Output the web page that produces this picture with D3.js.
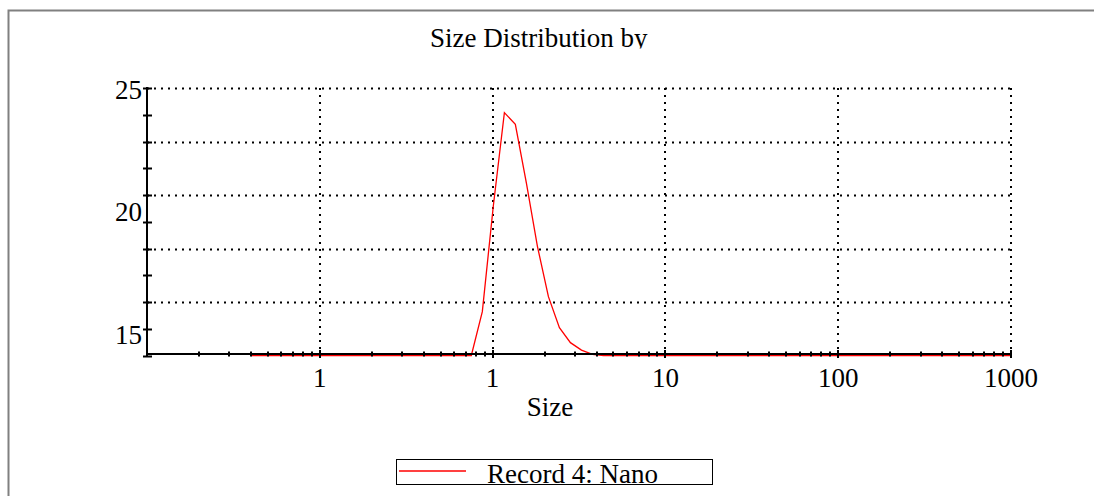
<!DOCTYPE html>
<html>
<head>
<meta charset="utf-8">
<script src="https://cdn.jsdelivr.net/npm/d3@7"></script>
<style>
  body { margin: 0; background: #fff; }
  text { font-family: "Liberation Serif", "Times New Roman", serif; fill: #000; }
</style>
</head>
<body>
<div class="chart"></div>
<script>
"use strict"

// size classes (nm)
const sizes = [0.4, 0.4632, 0.5365, 0.6213, 0.7195, 0.8332, 0.9649, 1.117, 1.294, 1.499,
  1.736, 2.01, 2.328, 2.696, 3.122, 3.615, 4.187, 4.849, 5.615, 6.503,
  7.531, 8.721, 10.1, 11.7, 13.54, 15.69, 18.17, 21.04, 24.36, 28.21,
  32.67, 37.84, 43.82, 50.75, 58.77, 68.06, 78.82, 91.28, 105.7, 122.4,
  141.8, 164.2, 190.1, 220.2, 255, 295.3, 342, 396.1, 458.7, 531.2,
  615.1, 712.4, 825, 955.4, 1106, 1281, 1484, 1718, 1990, 2305,
  2669, 3091, 3580, 4145, 4801, 5560, 6439, 7456, 8635, 10000];

// Record 4: Nano
const intensity = [0, 0, 0, 0, 0, 0, 0, 0, 0, 0,
  0, 0, 0, 0, 0, 0, 0, 0, 0, 0,
  0, 4.1, 14.0, 22.7, 21.6, 16.1, 10.2, 5.5, 2.6, 1.2,
  0.5, 0.1, 0, 0, 0, 0, 0, 0, 0, 0,
  0, 0, 0, 0, 0, 0, 0, 0, 0, 0,
  0, 0, 0, 0, 0, 0, 0, 0, 0, 0,
  0, 0, 0, 0, 0, 0, 0, 0, 0, 0];

const xTickVals = [1, 10, 100, 1000, 10000];
const xTickLabels = ["1", "1", "10", "100", "1000"];
const yGridVals = [5, 10, 15, 20, 25];
const yTickLabels = ["25", "20", "15"];

const fs = 27;

let svg = d3.select(".chart")
  .append("svg")
  .attr("width", 1094)
  .attr("height", 496);

// frame
svg.append("path")
  .attr("d", "M8.5,496V10.5H1094")
  .attr("fill", "none")
  .attr("stroke", "#808080")
  .attr("stroke-width", 2);

let x = d3.scaleLog().domain([0.1, 10000]).range([147, 1011]);
let y = d3.scaleLinear().domain([0, 25]).range([355.5, 88]);
// the tick labels on the left sit on their own scale
let yLab = d3.scaleLinear().domain([14.2, 25.05]).range([354, 88]);

// title (cut off at the bottom like the original)
svg.append("clipPath").attr("id", "tclip")
  .append("rect").attr("x", 0).attr("y", 0).attr("width", 1094).attr("height", 48.5);
svg.append("text")
  .attr("clip-path", "url(#tclip)")
  .attr("x", 430)
  .attr("y", 47)
  .attr("font-size", fs)
  .text("Size Distribution by");

// grid
let grid = svg.append("g")
  .attr("stroke", "#000")
  .attr("stroke-width", 2)
  .attr("stroke-dasharray", "2,5");
grid.selectAll(".hg")
  .data(yGridVals)
  .enter()
  .append("line")
  .attr("x1", 147)
  .attr("x2", 1012)
  .attr("y1", function(d) { return Math.round(y(d)) + 0.5; })
  .attr("y2", function(d) { return Math.round(y(d)) + 0.5; });
grid.selectAll(".vg")
  .data(xTickVals)
  .enter()
  .append("line")
  .attr("x1", function(d) { return Math.round(x(d)); })
  .attr("x2", function(d) { return Math.round(x(d)); })
  .attr("y1", 88)
  .attr("y2", 354);

// curve
let line = d3.line()
  .x(function(d) { return x(d[0]); })
  .y(function(d) { return y(d[1]); });
svg.append("path")
  .datum(d3.zip(sizes, intensity))
  .attr("d", line)
  .attr("fill", "none")
  .attr("stroke", "#ff0000")
  .attr("stroke-width", 1.3);

// axes
let ax = svg.append("g").attr("stroke", "#000");
ax.append("line")
  .attr("x1", 147).attr("x2", 1012)
  .attr("y1", 354).attr("y2", 354)
  .attr("stroke-width", 2);
ax.append("line")
  .attr("x1", 147).attr("x2", 147)
  .attr("y1", 87).attr("y2", 355)
  .attr("stroke-width", 2);

// y ticks every 2.5
ax.selectAll(".yt")
  .data(d3.range(0, 25.01, 2.5))
  .enter()
  .append("line")
  .attr("x1", 143).attr("x2", 152)
  .attr("y1", function(d) { return Math.round(y(d)) + 0.5; })
  .attr("y2", function(d) { return Math.round(y(d)) + 0.5; })
  .attr("stroke-width", 2);

// x ticks, log minors
ax.selectAll(".xt")
  .data(x.ticks())
  .enter()
  .append("line")
  .attr("x1", function(d) { return Math.round(x(d)); })
  .attr("x2", function(d) { return Math.round(x(d)); })
  .attr("y1", function(d) { return xTickVals.indexOf(d) >= 0 ? 350 : 351.5; })
  .attr("y2", function(d) { return xTickVals.indexOf(d) >= 0 ? 358 : 356.5; })
  .attr("stroke-width", 2);

// tick labels
svg.selectAll(".xl")
  .data(xTickVals)
  .enter()
  .append("text")
  .attr("x", function(d) { return x(d); })
  .attr("y", 387)
  .attr("text-anchor", "middle")
  .attr("font-size", fs)
  .text(function(d, i) { return xTickLabels[i]; });

svg.selectAll(".yl")
  .data(yTickLabels)
  .enter()
  .append("text")
  .attr("x", 142)
  .attr("y", function(d) { return yLab(+d); })
  .attr("dy", "0.35em")
  .attr("text-anchor", "end")
  .attr("font-size", fs)
  .text(function(d) { return d; });

svg.append("text")
  .attr("x", 550)
  .attr("y", 416)
  .attr("text-anchor", "middle")
  .attr("font-size", fs)
  .text("Size");

// legend
let lg = svg.append("g");
lg.append("rect")
  .attr("x", 396.5).attr("y", 459.5)
  .attr("width", 316).attr("height", 25)
  .attr("fill", "none")
  .attr("stroke", "#000")
  .attr("stroke-width", 1);
lg.append("line")
  .attr("x1", 399).attr("x2", 466)
  .attr("y1", 471).attr("y2", 471)
  .attr("stroke", "#ff0000")
  .attr("stroke-width", 1.5);
lg.append("text")
  .attr("x", 487)
  .attr("y", 483)
  .attr("font-size", fs)
  .text("Record 4: Nano");
</script>
</body>
</html>
